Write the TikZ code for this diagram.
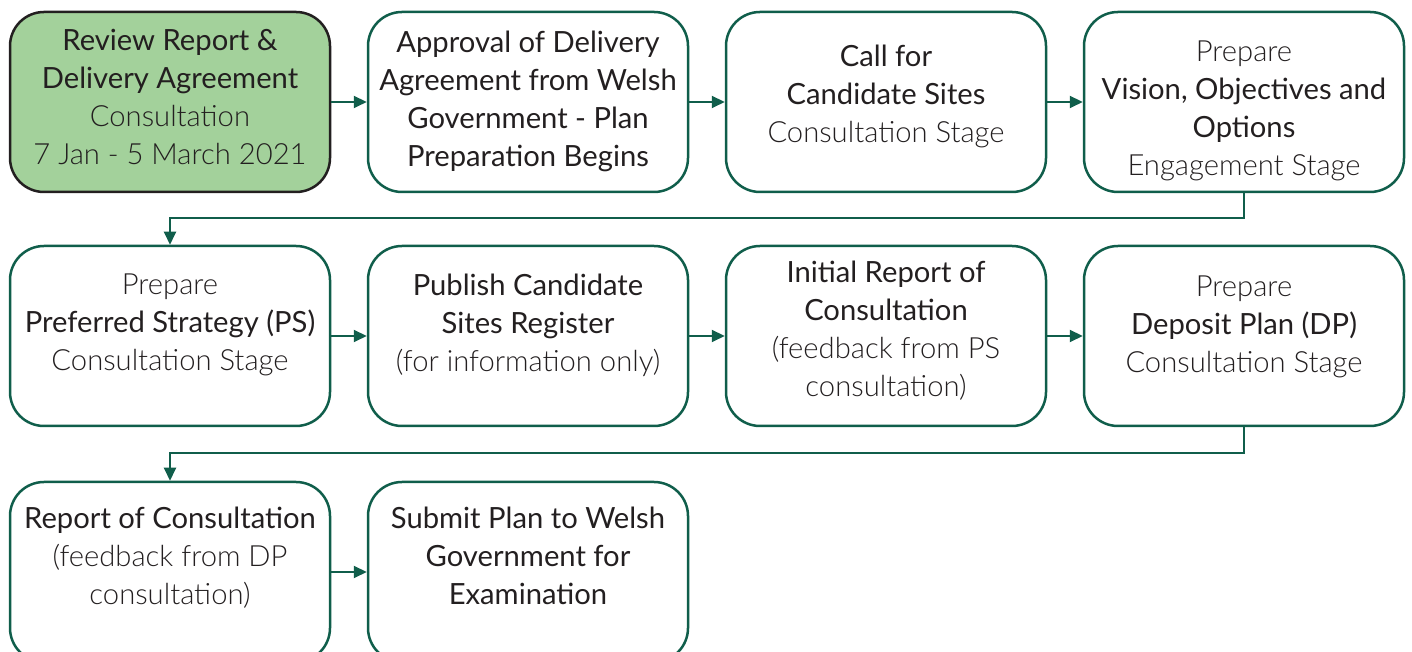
\documentclass[tikz,border=0pt]{standalone}
\usepackage{fontspec}
\setmainfont{Lato}
\newfontfamily\lightfont{Lato Light}
\usetikzlibrary{shapes.geometric, arrows.meta, positioning}
\definecolor{stagegreen}{RGB}{16,94,75}
\definecolor{startfill}{RGB}{163,209,155}
\definecolor{textgray}{RGB}{35,31,32}
\newcommand{\mtxt}[1]{{\rmfamily #1}}
\tikzstyle{stagebox} = [rectangle, rounded corners=17pt, minimum width=160pt, minimum height=90pt, draw=stagegreen, line width=1.25pt]
\tikzstyle{startbox} = [stagebox, draw=textgray, fill=startfill]
\tikzstyle{stagetext} = [align=center, text=textgray, font=\lightfont\fontsize{14.6pt}{19pt}\selectfont]
\tikzstyle{arrow} = [line width=1pt, color=stagegreen, -{Triangle[length=6.5pt,width=6pt]}]

\begin{document}
\begin{tikzpicture}[node distance=179pt]
	\useasboundingbox (0,0) rectangle (706pt,326pt);
	\node (b1) [startbox] at (85pt,275pt) {};
	\node (b2) [stagebox, right of=b1] {};
	\node (b3) [stagebox, right of=b2] {};
	\node (b4) [stagebox, right of=b3] {};
	\node (b5) [stagebox, below of=b1, yshift=62pt] {};
	\node (b6) [stagebox, right of=b5] {};
	\node (b7) [stagebox, right of=b6] {};
	\node (b8) [stagebox, right of=b7] {};
	\node (b9) [stagebox, below of=b5, yshift=61pt] {};
	\node (b10) [stagebox, right of=b9] {};
	% texts
	\node (t1) [stagetext, yshift=2.5pt] at (b1) {\mtxt{Review Report \&}\\\mtxt{Delivery Agreement}\\Consultation\\7 Jan - 5 March 2021};
	\node (t2) [stagetext, yshift=0.5pt] at (b2) {\mtxt{Approval of Delivery}\\\mtxt{Agreement from Welsh}\\\mtxt{Government - Plan}\\\mtxt{Preparation Begins}};
	\node (t3) [stagetext, yshift=3pt] at (b3) {\mtxt{Call for}\\\mtxt{Candidate Sites}\\Consultation Stage};
	\node (t4) [stagetext, yshift=-4.5pt] at (b4) {Prepare\\\mtxt{Vision, Objectives and}\\\mtxt{Options}\\Engagement Stage};
	\node (t5) [stagetext, yshift=5.5pt] at (b5) {Prepare\\\mtxt{Preferred Strategy (PS)}\\Consultation Stage};
	\node (t6) [stagetext, yshift=5.5pt] at (b6) {\mtxt{Publish Candidate}\\\mtxt{Sites Register}\\(for information only)};
	\node (t7) [stagetext, yshift=2.75pt] at (b7) {\mtxt{Initial Report of}\\\mtxt{Consultation}\\(feedback from PS\\consultation)};
	\node (t8) [stagetext, yshift=4.75pt] at (b8) {Prepare\\\mtxt{Deposit Plan (DP)}\\Consultation Stage};
	\node (t9) [stagetext, yshift=7pt] at (b9) {\mtxt{Report of Consultation}\\(feedback from DP\\consultation)};
	\node (t10) [stagetext, yshift=8pt] at (b10) {\mtxt{Submit Plan to Welsh}\\\mtxt{Government for}\\\mtxt{Examination}};
	% connectors
	\draw [arrow] (b1) -- (b2);
	\draw [arrow] (b2) -- (b3);
	\draw [arrow] (b3) -- (b4);
	\draw [arrow] (b4.south) -- ++(0,-12.5pt) -| (b5.north);
	\draw [arrow] (b5) -- (b6);
	\draw [arrow] (b6) -- (b7);
	\draw [arrow] (b7) -- (b8);
	\draw [arrow] (b8.south) -- ++(0,-13pt) -| (b9.north);
	\draw [arrow] (b9) -- (b10);
\end{tikzpicture}
\end{document}
